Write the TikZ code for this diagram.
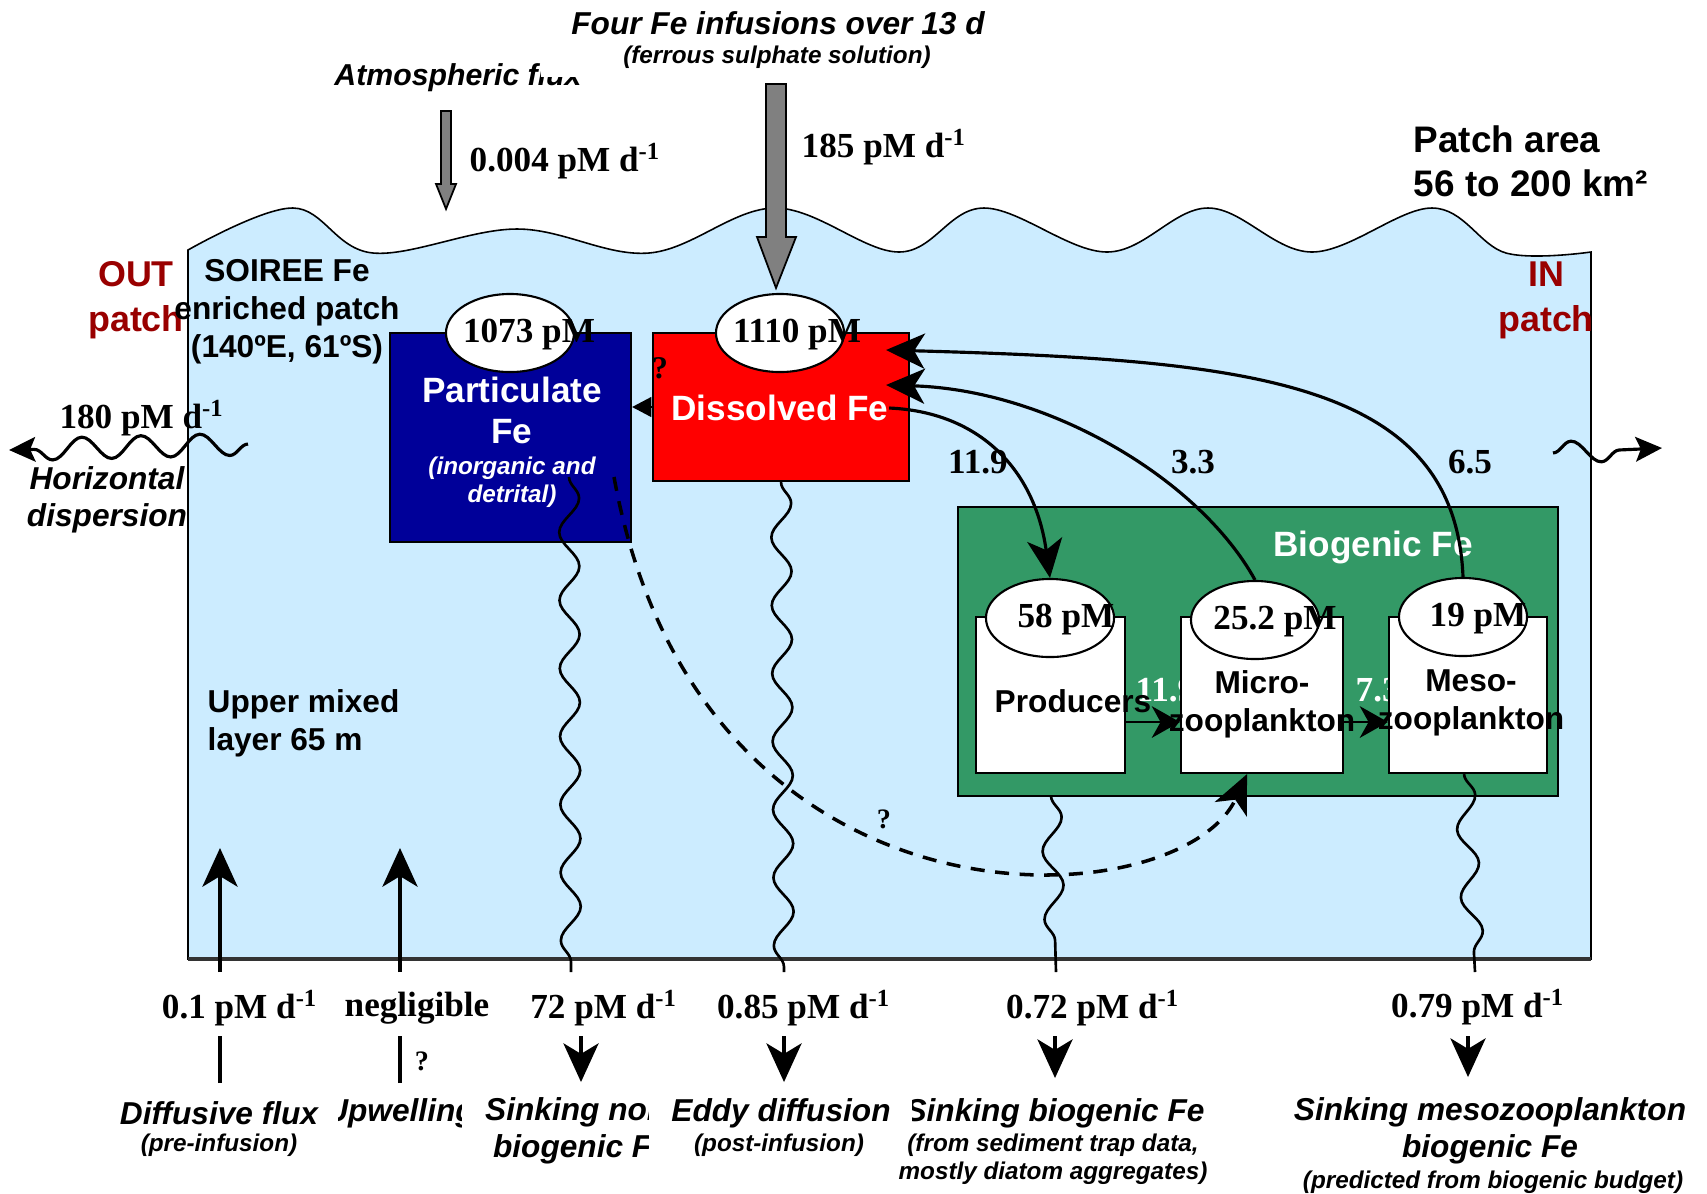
\documentclass[tikz,border=0pt]{standalone}
\usepackage{fontspec}
\setmainfont{Liberation Sans}
\newfontfamily\tms{Liberation Serif}
\usetikzlibrary{arrows.meta,shapes.geometric,decorations.pathmorphing,calc}
\definecolor{sea}{RGB}{204,236,255}
\definecolor{navy}{RGB}{0,0,153}
\definecolor{dkred}{RGB}{153,0,0}
\definecolor{biog}{RGB}{51,153,102}
\tikzset{
  txt/.style={inner sep=0pt, align=center, font=\bfseries\fontsize{9}{10.8}\selectfont},
  ttl/.style={inner sep=0pt, align=center, font=\bfseries\fontsize{10}{11.7}\selectfont},
  itl/.style={inner sep=0pt, align=center, font=\bfseries\itshape\fontsize{9}{10.5}\selectfont},
  sml/.style={inner sep=0pt, align=center, font=\bfseries\itshape\fontsize{6.9}{8}\selectfont},
  num/.style={inner sep=0pt, font=\tms\bfseries\fontsize{10}{12}\selectfont},
  box/.style={draw, line width=0.6pt, inner sep=0pt},
  pool/.style={ellipse, draw, fill=white, line width=0.6pt, minimum width=1.28cm, minimum height=0.78cm, inner sep=0pt},
  flux/.style={line width=0.9pt, -{Stealth[length=11pt,width=10pt,inset=3pt]}},
  graze/.style={line width=0.6pt, -{Stealth[length=8pt,width=9pt,inset=2.5pt]}},
  sink/.style={line width=0.75pt, decorate, decoration={snake, segment length=6.8mm, amplitude=1mm}},
  wave/.style={line width=0.9pt, decorate, decoration={snake, segment length=5.9mm, amplitude=1.1mm, post length=2.2mm}, -{Stealth[length=7.5pt,width=7pt,inset=1.5pt]}}
}
\begin{document}
\begin{tikzpicture}[x=0.01cm,y=-0.01cm]
\useasboundingbox (0,0) rectangle (1707,1193);

% mixed layer
\draw[fill=sea, line width=0.45pt] (188,959) -- plot[smooth, tension=0.6] coordinates {(188,250) (293,208) (373,253) (517,229) (649,253) (775,208) (899,252) (984,208) (1107,252) (1208,208) (1312,252) (1432,208) (1506,253) (1591,252)} -- (1591,959) -- cycle;
\draw[line width=1.2pt, black!80] (188,959) -- (1591,959);

% inputs from above
\draw[fill=gray, line width=0.5pt] (441,111) -- (451,111) -- (451,184) -- (456,184) -- (446,209) -- (436,184) -- (441,184) -- cycle;
\draw[fill=gray, line width=0.5pt] (766,84) -- (786,84) -- (786,237) -- (796,237) -- (776,288) -- (757,237) -- (766,237) -- cycle;
\node[itl] (inf) at (778,23) {Four Fe infusions over 13 d};
\node[sml] (sul) at (777,57) {(ferrous sulphate solution)};
\begin{scope}
  \clip (300,55) -- (540,55) -- (540,77) -- (620,77) -- (620,100) -- (300,100) -- cycle;
  \node[itl, font=\bfseries\itshape\fontsize{8.6}{10}\selectfont] (atm) at (458,78) {Atmospheric flux};
\end{scope}
\node[num, anchor=west] (r004) at (469,161) {0.004 pM d\textsuperscript{-1}};
\node[num, anchor=west] (r185) at (801,147) {185 pM d\textsuperscript{-1}};
\node[txt, font=\bfseries\fontsize{10.5}{12.5}\selectfont, align=left, anchor=west] (area) at (1413,161) {Patch area\\56 to 200 km²};

% sides
\node[ttl, text=dkred, font=\bfseries\fontsize{10.2}{12.8}\selectfont] (out) at (136,300) {OUT\\patch};
\node[ttl, text=dkred, font=\bfseries\fontsize{10.2}{12.8}\selectfont] (inp) at (1546,300) {IN\\patch};
\node[txt] (soi) at (287,312) {SOIREE Fe\\enriched patch\\(140ºE, 61ºS)};
\node[num] (r180) at (142,418) {180 pM d\textsuperscript{-1}};
\node[itl] (hor) at (107,500) {Horizontal\\dispersion};
\node[txt, align=left, anchor=west] (uml) at (207,723) {Upper mixed\\layer 65 m};
\coordinate (hl1) at (248,444);
\coordinate (hl2) at (9,450);
\draw[wave] (hl1) -- (hl2);
\coordinate (hr1) at (1553,453);
\coordinate (hr2) at (1662,448);
\draw[wave] (hr1) -- (hr2);

% particulate and dissolved pools
\node[box, fill=navy, minimum width=2.41cm, minimum height=2.09cm] (par) at (510.5,437.5) {};
\node[box, fill=red, minimum width=2.56cm, minimum height=1.48cm] (dis) at (781,407) {};
\node[pool] (ppool) at (510,333) {};
\node[num] (pval) at (529,335) {1073 pM};
\node[pool] (dpool) at (780,333) {};
\node[num] (dval) at (797,335) {1110 pM};
\node[ttl, text=white] (ptxt) at (512,410) {Particulate\\Fe};
\node[sml, text=white] (pnote) at (512,482) {(inorganic and\\detrital)};
\node[ttl, text=white] (dtxt) at (780,408) {Dissolved Fe};
\node[num, font=\tms\bfseries\fontsize{9}{10}\selectfont] (q1) at (660,368) {?};
\draw[-{Triangle[length=5.5pt,width=5.7pt]}] (dis.west) -- (par.east |- dis.west);

% biogenic pools
\node[box, fill=biog, minimum width=6cm, minimum height=2.89cm] (bio) at (1258,651.5) {};
\node[ttl, text=white] (btxt) at (1373,547) {Biogenic Fe};
\node[num, text=white, anchor=west] (k1) at (1135,690) {11.9};
\node[num, text=white, anchor=west] (k2) at (1355,690) {7.3};
\node[box, fill=white, minimum width=1.49cm, minimum height=1.56cm] (pro) at (1050.5,695) {};
\node[box, fill=white, minimum width=1.62cm, minimum height=1.56cm] (mic) at (1262,695) {};
\node[box, fill=white, minimum width=1.58cm, minimum height=1.56cm] (mes) at (1468,695) {};
\node[pool] (prp) at (1050,618) {};
\node[pool] (mip) at (1255,620) {};
\node[pool] (mep) at (1463,617) {};
\node[num] (prv) at (1066,620) {58 pM};
\node[num] (miv) at (1275,622) {25.2 pM};
\node[num] (mev) at (1478,619) {19 pM};
\node[txt] (prt) at (1073,701) {Producers};
\node[txt] (mit) at (1262,704) {Micro-\\zooplankton};
\node[txt] (met) at (1471,703) {Meso-\\zooplankton};
\draw[graze] ($(pro.east)+(0,27)$) -- ($(mic.west)+(0,27)$);
\draw[graze] ($(mic.east)+(0,27)$) -- ($(mes.west)+(0,27)$);

% uptake and regeneration
\coordinate (din1) at (886,350);
\coordinate (din2) at (886,385);
\draw[flux] (dtxt.east) .. controls (980,412) and (1035,470) .. (prp.north);
\draw[flux] (mip.north) .. controls (1200,480) and (1050,390) .. (din2);
\draw[flux] (mep.north) .. controls (1455,380) and (1250,360) .. (din1);
\node[num] (k3) at (978,462) {11.9};
\node[num] (k4) at (1193,462) {3.3};
\node[num] (k5) at (1470,462) {6.5};
\coordinate (pq) at (614,477);
\draw[flux, line width=1pt, dash pattern=on 4pt off 3pt] (pq) .. controls (700,950) and (1180,920) .. ($(mic.south)+(-15,0)$);
\node[num, font=\tms\bfseries\fontsize{8}{9}\selectfont] (q2) at (884,819) {?};

% sinking
\coordinate (pt) at (569,477);
\coordinate (pb) at (571,972);
\coordinate (db) at (784,972);
\coordinate (bt) at (1051,796);
\coordinate (bb) at (1056,972);
\coordinate (mb) at (1475,972);
\draw[sink] (pt) -- (pb);
\draw[sink] (dis.south) -- (db);
\draw[sink] (bt) -- (bb);
\draw[sink] ($(mes.south)+(-4,0)$) -- (mb);

% fluxes across the base
\node[num] (b1) at (240,1008) {0.1 pM d\textsuperscript{-1}};
\node[num] (b2) at (417,1008) {negligible};
\node[num] (b3) at (604,1008) {72 pM d\textsuperscript{-1}};
\node[num] (b4) at (804,1008) {0.85 pM d\textsuperscript{-1}};
\node[num] (b5) at (1093,1008) {0.72 pM d\textsuperscript{-1}};
\node[num] (b6) at (1478,1007) {0.79 pM d\textsuperscript{-1}};
\foreach \n/\x in {1/220,2/400} {
  \coordinate (ua\n) at (\x,972);
  \coordinate (ub\n) at (\x,848);
  \coordinate (va\n) at (\x,1083);
  \coordinate (vb\n) at (\x,1036);
  \draw[flux] (ua\n) -- (ub\n);
  \draw[line width=0.9pt] (va\n) -- (vb\n);
}
\foreach \n/\x/\y in {3/581/1082,4/784/1082,5/1055/1078,6/1468/1077} {
  \coordinate (ta\n) at (\x,1036);
  \coordinate (tb\n) at (\x,\y);
  \draw[flux] (ta\n) -- (tb\n);
}
\node[num, font=\tms\bfseries\fontsize{8}{9}\selectfont] (q3) at (422,1061) {?};
\node[itl] (l1) at (219,1113) {Diffusive flux};
\node[sml] (s1) at (219,1145) {(pre-infusion)};
\begin{scope}
  \clip (338,1090) rectangle (461,1140);
  \node[itl] (l2) at (400,1113) {Upwelling};
\end{scope}
\begin{scope}
  \clip (470,1090) rectangle (648,1175);
  \node[itl] (l3) at (581,1131) {Sinking non-\\biogenic Fe};
\end{scope}
\node[itl] (l4) at (781,1113) {Eddy diffusion};
\node[sml] (s4) at (779,1145) {(post-infusion)};
\begin{scope}
  \clip (912,1090) rectangle (1230,1135);
  \node[itl] (l5) at (1055,1113) {Sinking biogenic Fe};
\end{scope}
\node[sml] (s5) at (1053,1159) {(from sediment trap data,\\mostly diatom aggregates)};
\node[itl] (l6) at (1490,1131) {Sinking mesozooplankton\\biogenic Fe};
\node[sml] (s6) at (1493,1182) {(predicted from biogenic budget)};
\end{tikzpicture}
\end{document}
